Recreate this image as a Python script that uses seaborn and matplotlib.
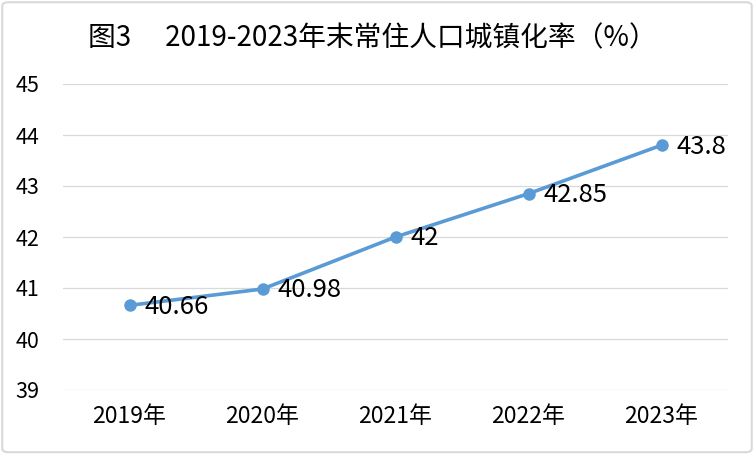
import matplotlib
matplotlib.use("Agg")
import matplotlib.pyplot as plt
import seaborn as sns
from matplotlib.patches import FancyBboxPatch

# --- dados ---
anos = ["2019年", "2020年", "2021年", "2022年", "2023年"]
taxa = [40.66, 40.98, 42, 42.85, 43.8]
rotulos = ["40.66", "40.98", "42", "42.85", "43.8"]
y_ticks = [39, 40, 41, 42, 43, 44, 45]
titulo = "图3\u3000 2019-2023年末常住人口城镇化率（%）"

sns.set_theme(style="white")
plt.rcParams['font.family'] = ['Noto Sans CJK SC', 'DejaVu Sans']

fig = plt.figure(figsize=(7.54, 4.54), dpi=100)
ax = fig.add_axes([63 / 754, 1 - 390 / 454, 665 / 754, 306 / 454])

cor = "#5B9BD5"
sns.lineplot(x=anos, y=taxa, ax=ax, sort=False, color=cor, linewidth=2.6,
             marker="o", markersize=9, markeredgewidth=0, markerfacecolor=cor)

# rótulos de dados à direita dos pontos
for i, (v, r) in enumerate(zip(taxa, rotulos)):
    ax.annotate(r, (i, v), xytext=(11, -1), textcoords="offset points",
                ha="left", va="center", fontsize=18.5, color="black")

ax.set_xlim(-0.5, 4.5)
ax.set_ylim(39, 45)
ax.set_yticks(y_ticks)
ax.set_yticklabels([str(t) for t in y_ticks])
ax.grid(axis="y", color="#d9d9d9", linewidth=0.9)
ax.grid(axis="x", visible=False)
ax.set_axisbelow(True)
for s in ax.spines.values():
    s.set_visible(False)
ax.tick_params(axis="y", length=0, pad=17, labelsize=15.5, labelcolor="black")
ax.tick_params(axis="x", length=0, pad=11, labelsize=16.5, labelcolor="black")
ax.set_xlabel("")
ax.set_ylabel("")

fig.text(372 / 754, 1 - 38 / 454, titulo, ha="center", va="center",
         fontsize=20, color="black")

# borda do gráfico
borda = FancyBboxPatch((0.003, 0.004), 0.994, 0.991, boxstyle="round,pad=0,rounding_size=0.008",
                       transform=fig.transFigure, fill=False, edgecolor="#d9d9d9", linewidth=1.5)
fig.patches.append(borda)

fig.savefig("out.png", dpi=100)
